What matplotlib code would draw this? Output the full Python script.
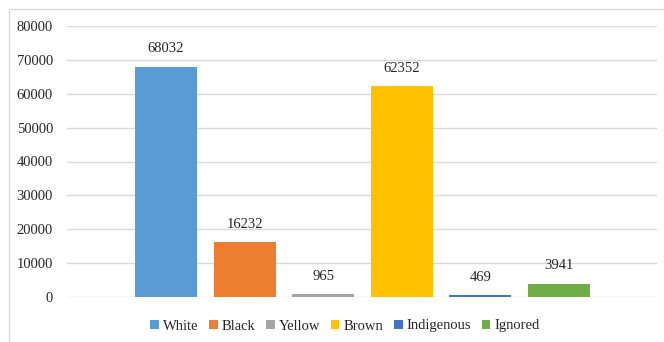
import matplotlib.pyplot as plt
from matplotlib.patches import Patch, Rectangle

plt.rcParams['font.family'] = ['Liberation Serif', 'DejaVu Serif']

races = ['White', 'Black', 'Yellow', 'Brown', 'Indigenous', 'Ignored']
counts = [68032, 16232, 965, 62352, 469, 3941]
colors = ['#5B9BD5', '#ED7D31', '#A5A5A5', '#FFC000', '#4472C4', '#70AD47']

fig = plt.figure(figsize=(6.64, 3.42), dpi=100)
ax = fig.add_axes([67 / 664, 1 - 297 / 342, (657 - 67) / 664, (297 - 26) / 342])

x = list(range(len(races)))
bars = ax.bar(x, counts, width=0.79, color=colors, zorder=3)
for xi, v in zip(x, counts):
    ax.text(xi, v + 3300, str(v), ha='center', va='bottom', fontsize=10.5, color='#262626')

ax.set_xlim(-1.26, 6.25)
ax.set_ylim(0, 80000)
ax.set_yticks(range(0, 80001, 10000))
ax.set_xticks([])
ax.tick_params(axis='y', length=0, pad=10, labelsize=10.5, labelcolor='#262626')
ax.grid(axis='y', color='#D9D9D9', linewidth=1, zorder=0)
for s in ax.spines.values():
    s.set_visible(False)

# legend at the bottom
handles = [Patch(facecolor=c, label=r) for c, r in zip(colors, races)]
fig.legend(handles=handles, loc='center', bbox_to_anchor=(345 / 664, 1 - 326 / 342),
           ncol=6, frameon=False, fontsize=10.5, handlelength=0.6, handleheight=0.6,
           handletextpad=0.3, columnspacing=0.7, labelcolor='#262626')

# chart border
fig.patches.append(Rectangle((9 / 664, -0.1), 1.2, 1 - 9 / 342 + 0.1, transform=fig.transFigure,
                             fill=False, edgecolor='#D9D9D9', linewidth=1))

fig.savefig('out.png', dpi=100)
